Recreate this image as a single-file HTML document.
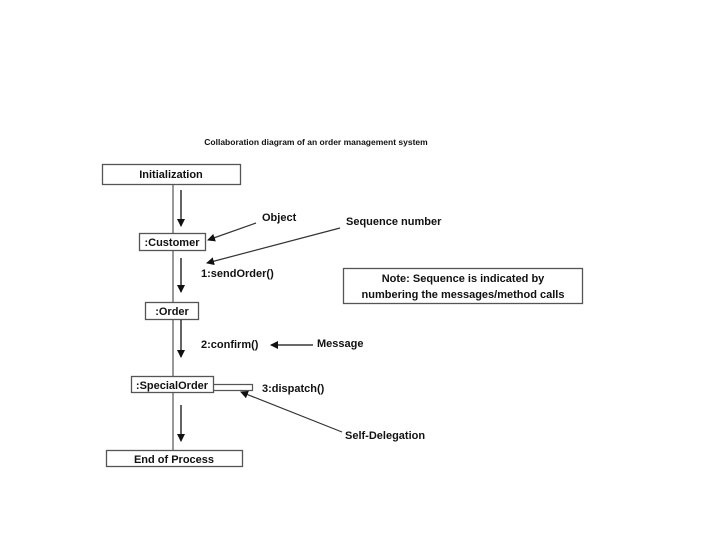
<!DOCTYPE html>
<html><head><meta charset="utf-8"><style>
html,body{margin:0;padding:0;background:#fff;}
svg{display:block;}
text{font-family:"Liberation Sans",Arial,sans-serif;font-weight:bold;fill:#111;}
</style></head><body>
<svg width="720" height="540" viewBox="0 0 720 540" xmlns="http://www.w3.org/2000/svg">
<defs>
<marker id="a" markerWidth="8" markerHeight="8" refX="7" refY="4" orient="auto" markerUnits="userSpaceOnUse"><path d="M0,0 L8,4 L0,8 z" fill="#111"/></marker>
</defs>
<text x="316" y="145" font-size="8.5" text-anchor="middle" font-weight="normal" style="font-weight:bold">Collaboration diagram of an order management system</text>
<!-- lifeline -->
<line x1="173" y1="184" x2="173" y2="450" stroke="#555" stroke-width="1.2"/>
<!-- boxes -->
<rect x="102.5" y="164.5" width="138" height="20" fill="#fff" stroke="#555" stroke-width="1.3"/>
<text x="171" y="178" font-size="11" text-anchor="middle">Initialization</text>
<rect x="139.5" y="233.5" width="66" height="17" fill="#fff" stroke="#555" stroke-width="1.3"/>
<text x="172" y="246" font-size="11" text-anchor="middle">:Customer</text>
<rect x="145.5" y="302.5" width="53" height="17" fill="#fff" stroke="#555" stroke-width="1.3"/>
<text x="172" y="315" font-size="11" text-anchor="middle">:Order</text>
<rect x="131.5" y="376.5" width="82" height="16" fill="#fff" stroke="#555" stroke-width="1.3"/>
<text x="172" y="389" font-size="11" text-anchor="middle">:SpecialOrder</text>
<path d="M213.5,384.5 H252.5 V390.5 H213.5" fill="none" stroke="#555" stroke-width="1.2"/>
<rect x="106.5" y="450.5" width="136" height="16" fill="#fff" stroke="#555" stroke-width="1.3"/>
<text x="174" y="463" font-size="11" text-anchor="middle">End of Process</text>
<!-- down arrows -->
<line x1="181" y1="190" x2="181" y2="226" stroke="#111" stroke-width="1.3" marker-end="url(#a)"/>
<line x1="181" y1="258" x2="181" y2="292" stroke="#111" stroke-width="1.3" marker-end="url(#a)"/>
<line x1="181" y1="320" x2="181" y2="357" stroke="#111" stroke-width="1.3" marker-end="url(#a)"/>
<line x1="181" y1="405" x2="181" y2="441" stroke="#111" stroke-width="1.3" marker-end="url(#a)"/>
<!-- labels -->
<text x="262" y="221" font-size="11">Object</text>
<line x1="256" y1="223" x2="208" y2="240" stroke="#333" stroke-width="1.2" marker-end="url(#a)"/>
<text x="346" y="225" font-size="11">Sequence number</text>
<line x1="340" y1="228" x2="207" y2="263" stroke="#333" stroke-width="1.2" marker-end="url(#a)"/>
<text x="201" y="277" font-size="11">1:sendOrder()</text>
<rect x="343.5" y="268.5" width="239" height="35" fill="#fff" stroke="#555" stroke-width="1.3"/>
<text x="463" y="282" font-size="11" text-anchor="middle">Note: Sequence is indicated by</text>
<text x="463" y="298" font-size="11" text-anchor="middle">numbering the messages/method calls</text>
<text x="201" y="348" font-size="11">2:confirm()</text>
<line x1="313" y1="345" x2="271" y2="345" stroke="#111" stroke-width="1.3" marker-end="url(#a)"/>
<text x="317" y="347" font-size="11">Message</text>
<text x="262" y="392" font-size="11">3:dispatch()</text>
<line x1="342" y1="432" x2="241" y2="392" stroke="#333" stroke-width="1.2" marker-end="url(#a)"/>
<text x="345" y="439" font-size="11">Self-Delegation</text>
</svg>
</body></html>
